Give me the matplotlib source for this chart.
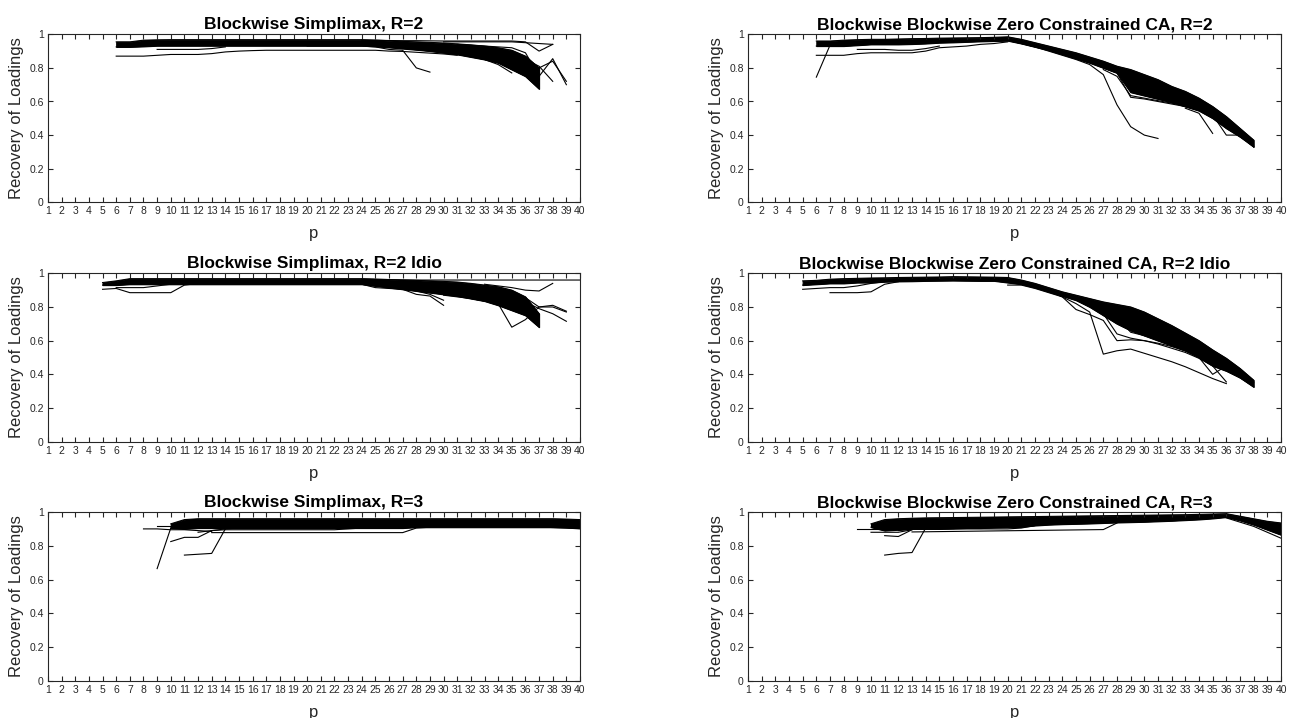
import numpy as np
import matplotlib.pyplot as plt

plt.rcParams['font.family'] = ['Liberation Sans', 'DejaVu Sans']

p_ticks = list(range(1, 41))
y_ticks = [0, 0.2, 0.4, 0.6, 0.8, 1]
y_labels = ['0', '0.2', '0.4', '0.6', '0.8', '1']

# Blockwise Simplimax, R=2  (dense band of runs, p = 6..37)
sr2_start = 6
sr2_upper = [.955, .955, .965, .967,
             .968, .968, .968, .968, .968, .968, .968, .968, .968, .968, .968, .968, .968, .968, .968,
             .965, .962, .958, .955, .952, .948, .943, .937, .93, .92, .905, .87, .80]
sr2_lower = [.925, .925, .928,
             .932, .932, .932, .932, .932, .932, .932, .932, .932, .932, .932, .932, .932, .932, .932, .932,
             .928, .922, .915, .908, .90, .89, .88, .865, .85, .83, .79, .75, .675]
sr2_lines = [
    (6, [.87, .87, .87, .875, .88, .88, .88, .885, .895, .90, .903, .905, .905, .905, .905, .905,
         .905, .905, .905, .905, .90, .898, .893, .888, .883, .875]),
    (9, [.91, .91, .91, .91, .915, .925]),
    (20, [.93, .93, .93, .93, .93, .925, .91, .905, .80, .775]),
    (24, [.965, .965, .963, .962, .962, .961, .96, .96, .96, .96, .96, .96, .955, .90, .94]),
    (30, [.955, .955, .955, .955, .955, .955, .95, .945, .94]),
    (31, [.94, .935, .93, .925, .92, .89, .75]),
    (33, [.92, .91, .89, .84, .75, .855, .70]),
    (33, [.90, .88, .86, .82, .80, .84, .72]),
    (33, [.91, .90, .88, .85, .81, .72]),
    (31, [.92, .91, .90, .88, .84, .78, .70]),
    (31, [.93, .925, .915, .90, .88, .83, .73]),
    (30, [.90, .885, .87, .85, .82, .77]),
]

# Blockwise Zero Constrained CA, R=2  (p = 6..38)
ca2_start = 6
ca2_upper = [.96, .96, .965, .968, .97, .97, .972, .974, .975, .977, .978, .979, .98, .982, .985,
             .97, .95, .93, .91, .89, .865, .84, .81, .79, .76, .73, .69, .66, .62, .57, .51, .44, .37]
ca2_lower = [.93, .93, .93, .935, .94, .94, .94, .942, .945, .95, .952, .955, .958, .96, .962,
             .945, .925, .905, .88, .855, .83, .80, .77, .655, .635, .615, .595, .57, .545, .50, .44, .39, .33]
ca2_lines = [
    (6, [.745, .935, .94, .945]),
    (6, [.875, .875, .875, .885, .89, .89, .89, .89, .90, .92, .925, .93, .94, .945, .955]),
    (9, [.91, .91, .91, .905, .905, .915, .93]),
    (20, [.965, .945, .925, .90, .875, .85, .82, .76, .58, .45, .40, .38]),
    (27, [.80, .77, .625, .615, .60, .585, .57, .55, .52, .46, .40, .33]),
    (27, [.79, .75, .635, .62, .605, .59, .575, .55, .52, .45, .39, .34]),
    (33, [.56, .53, .41]),
    (34, [.56, .52, .40, .40, .33]),
]

# Blockwise Simplimax, R=2 Idio  (p = 5..37)
si2_start = 5
si2_upper = [.945, .955,
             .968, .968, .968, .968, .968, .968, .968, .968, .968, .968, .968, .968, .968, .968, .968, .968, .968, .968,
             .966, .963, .96, .958, .955, .952, .948, .94, .93, .92, .90, .86, .76]
si2_lower = [.93, .93,
             .935, .935, .935, .935, .935, .935, .935, .935, .935, .935, .935, .935, .935, .935, .935, .935, .935, .935,
             .925, .915, .905, .895, .885, .875, .865, .85, .835, .81, .78, .75, .68]
si2_lines = [
    (24, [.965, .963, .962, .961, .96, .96, .96, .96, .96, .96, .96, .96, .96, .96, .96, .96, .96]),
    (5, [.905, .91, .885, .885, .885, .885, .93, .94]),
    (6, [.915, .915, .915, .925, .935]),
    (24, [.935, .915, .91, .905, .875, .865, .81]),
    (27, [.91, .895, .875, .84]),
    (30, [.87, .86, .85, .835]),
    (32, [.88, .86, .82, .68, .725, .80, .80, .77]),
    (33, [.935, .925, .915, .90, .895, .94]),
    (33, [.92, .905, .89, .855, .80, .81, .775]),
    (33, [.91, .89, .87, .83, .79, .76, .715]),
]

# Blockwise Zero Constrained CA, R=2 Idio  (p = 5..38)
ca2i_start = 5
ca2i_upper = [.955, .958, .965, .968, .97, .972, .973, .975, .976, .977, .978, .98, .979, .978, .977, .975,
              .96, .94, .915, .89, .87, .85, .83, .815, .80, .77, .73, .69, .645, .60, .545, .495, .435, .365]
ca2i_lower = [.93, .935, .94, .94, .945, .945, .95, .952, .953, .955, .956, .957, .956, .955, .955, .945,
              .935, .915, .89, .865, .84, .80, .75, .70, .66, .63, .60, .57, .54, .50, .45, .42, .38, .325]
ca2i_lines = [
    (5, [.905, .91, .915, .915, .925, .94, .95]),
    (7, [.885, .885, .885, .89, .935, .95]),
    (20, [.93, .93, .91, .885, .86, .82, .77, .52, .54, .55, .525, .50, .475, .445, .41, .375, .345]),
    (23, [.895, .86, .785, .755, .72, .60, .605, .60, .58, .555, .53, .495, .45, .355]),
    (27, [.76, .64, .615, .60, .585, .565, .54, .51, .46, .43, .38, .33]),
    (27, [.80, .74, .65, .63, .61, .585, .56, .53, .49, .44, .40, .35]),
    (33, [.55, .50, .40, .45]),
]

# Blockwise Simplimax, R=3  (p = 10..40)
si3_start = 10
si3_upper = [.93, .955, .96,
             .96, .96, .96, .96, .96, .96, .96, .96, .96, .96, .96, .96, .96, .96, .96, .96, .96, .96,
             .96, .96, .96, .96, .96, .96, .96, .96, .958, .955]
si3_lower = [.905, .90, .905,
             .905, .905, .905, .905, .905, .905, .905, .905, .905, .905, .905, .905, .905, .905, .905,
             .91, .91, .91, .91, .91, .91, .91, .91, .91, .91, .91, .908, .905]
si3_lines = [
    (8, [.90, .90, .895, .895, .89, .885]),
    (9, [.665, .905, .905, .91]),
    (9, [.92, .92]),
    (10, [.825, .85, .85, .89, .90]),
    (11, [.745, .75, .755, .90, .905]),
    (13, [.878, .878, .878, .878, .878, .878, .878, .878, .878, .878, .878, .878, .878, .878, .878, .905, .91]),
    (12, [.88, .89, .895, .895, .895, .895, .895, .895, .895, .895, .895, .90, .905]),
    (36, [.915, .912, .908, .905, .90]),
]

# Blockwise Zero Constrained CA, R=3  (p = 10..40)
ca3_start = 10
ca3_upper = [.93, .955, .96, .963, .965, .966, .967, .968, .969, .97, .971, .972, .973, .974, .975, .976,
             .977, .978, .979, .98, .981, .982, .983, .984, .986, .988, .99, .975, .96, .945, .935]
ca3_lower = [.91, .89, .895, .90, .90, .90, .902, .905, .905, .908, .91, .912, .92, .925, .928, .93,
             .932, .935, .938, .94, .942, .945, .948, .952, .956, .962, .97, .95, .925, .895, .865]
ca3_lines = [
    (9, [.90, .90, .90]),
    (10, [.88, .88, .88, .895]),
    (11, [.86, .855, .895]),
    (11, [.745, .755, .76, .905]),
    (13, [.882, .883, .884, .885, .886, .887, .888, .889, .89, .891, .892, .893, .894, .895, .896, .935]),
    (12, [.89, .90, .90, .90, .90, .90, .90, .90, .90, .905, .92]),
    (36, [.965, .94, .915, .88, .845]),
]

W, H = 1295, 718
fig = plt.figure(figsize=(W / 100, H / 100), dpi=100)
ink = '#262626'


def panel(rect, title, start, upper, lower, lines):
    ax = fig.add_axes(rect)
    x = np.arange(start, start + len(upper))
    ax.fill_between(x, lower, upper, color='black', linewidth=0.8)
    ax.plot(x, upper, color='black', lw=0.8)
    ax.plot(x, lower, color='black', lw=0.8)
    for s, vals in lines:
        ax.plot(np.arange(s, s + len(vals)), vals, color='black', lw=0.8)
    ax.set_xlim(1, 40)
    ax.set_ylim(0, 1)
    ax.set_xticks(p_ticks)
    ax.set_xticklabels([str(t) for t in p_ticks])
    ax.set_yticks(y_ticks)
    ax.set_yticklabels(y_labels)
    ax.tick_params(direction='in', top=True, right=True, length=3.9, width=0.8,
                   labelsize=7.5, colors=ink, pad=3)
    for sp in ax.spines.values():
        sp.set_color(ink)
        sp.set_linewidth(0.8)
    ax.set_title(title, fontsize=12.5, fontweight='bold', pad=3.5)
    ax.set_xlabel('p', fontsize=12, color=ink, labelpad=7)
    ax.set_ylabel('Recovery of Loadings', fontsize=12, color=ink, labelpad=4)
    return ax


lx, rx = 48 / W, 748 / W
lw_, rw_ = 532 / W, 533 / W
rows = [(1 - 202.3 / H, 168 / H), (1 - 441.7 / H, 168.4 / H), (1 - 681 / H, 169 / H)]

panel([lx, rows[0][0], lw_, rows[0][1]], 'Blockwise Simplimax, R=2',
      sr2_start, sr2_upper, sr2_lower, sr2_lines)
panel([rx, rows[0][0], rw_, rows[0][1]], 'Blockwise Blockwise Zero Constrained CA, R=2',
      ca2_start, ca2_upper, ca2_lower, ca2_lines)
panel([lx, rows[1][0], lw_, rows[1][1]], 'Blockwise Simplimax, R=2 Idio',
      si2_start, si2_upper, si2_lower, si2_lines)
panel([rx, rows[1][0], rw_, rows[1][1]], 'Blockwise Blockwise Zero Constrained CA, R=2 Idio',
      ca2i_start, ca2i_upper, ca2i_lower, ca2i_lines)
panel([lx, rows[2][0], lw_, rows[2][1]], 'Blockwise Simplimax, R=3',
      si3_start, si3_upper, si3_lower, si3_lines)
panel([rx, rows[2][0], rw_, rows[2][1]], 'Blockwise Blockwise Zero Constrained CA, R=3',
      ca3_start, ca3_upper, ca3_lower, ca3_lines)

fig.savefig('out.png', dpi=100)
